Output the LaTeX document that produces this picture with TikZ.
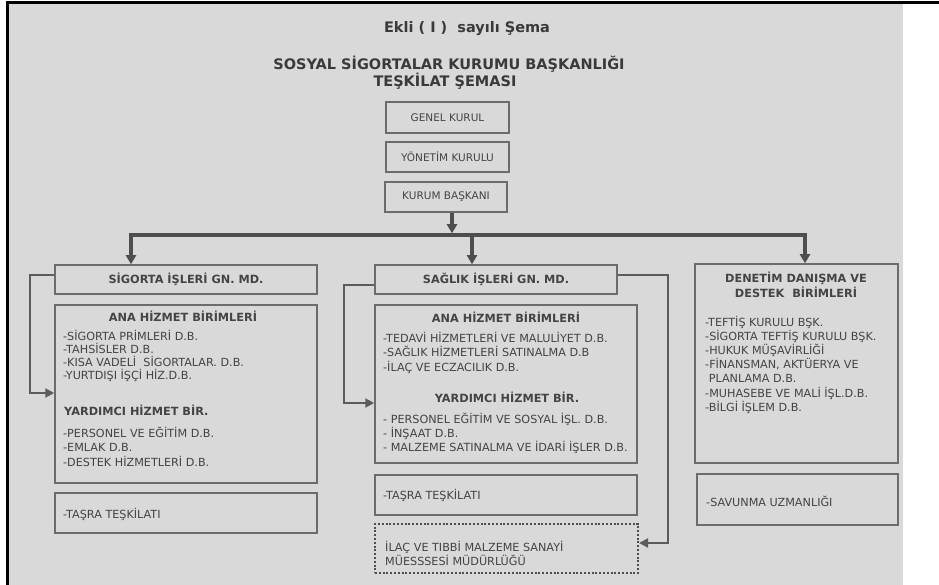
\documentclass[tikz,border=0pt]{standalone}
\usepackage{fontspec}
\setmainfont{DejaVu Sans}
\usetikzlibrary{calc}
\usetikzlibrary{arrows.meta}
\definecolor{paper}{RGB}{217,217,217}
\definecolor{ink}{RGB}{68,68,68}
\definecolor{frame}{RGB}{108,108,108}
\definecolor{wire}{RGB}{78,78,78}
\tikzset{
	chartbox/.style={draw=frame, line width=1.5pt, inner sep=0pt},
	txt/.style={text=ink, inner sep=0pt, font=\fontsize{11.2}{14}\selectfont},
	toptxt/.style={txt, font=\fontsize{10.5}{13}\selectfont},
	headtxt/.style={txt, font=\fontsize{11.3}{14}\selectfont\bfseries},
	titletxt/.style={text=ink!85!black, inner sep=0pt, font=\fontsize{14.5}{17}\selectfont\bfseries},
	busline/.style={draw=wire, line width=3.5pt, line join=miter, >={Triangle[length=9pt,width=10pt]}},
	sideline/.style={draw=frame!85!black, line width=2pt, ->, >={Triangle[length=9pt,width=9pt]}},
	dotbox/.style={chartbox, draw=wire, line width=2pt, dash pattern=on 2pt off 1.8pt},
}
\newcommand{\unitbox}[7][] % [style], name, left, top, right, bottom, text
{
	\node[chartbox, minimum width={#5-#3}, minimum height={#6-#4}, #1] (#2) at ({(#3+#5)/2},{(#4+#6)/2}) {#7};
}
\newcommand{\unitlist}[5] % name, x, first baseline, line step, items
{
	\foreach \entry [count=\idx] in {#5}
		\node[txt, anchor=base west] (#1-\idx) at (#2,{#3+#4*(\idx-1)}) {\entry};
}
\begin{document}
\begin{tikzpicture}[x=1pt, y=-1pt]
	% scanned page, 939 x 585
	\useasboundingbox (0,0) rectangle (939,585);
	\fill[white] (0,0) rectangle (939,585);
	\fill[paper] (9,4) rectangle (903,585);
	\fill[black] (6,1) rectangle (939,4);
	\fill[black] (6,1) rectangle (9,585);
	
	% titles
	\node[titletxt, anchor=base] (ekli) at (467,33) {Ekli ( I )\ \ sayılı Şema};
	\node[titletxt, anchor=base] (ssk) at (449,70) {SOSYAL SİGORTALAR KURUMU BAŞKANLIĞI};
	\node[titletxt, anchor=base] (sema) at (445,87) {TEŞKİLAT ŞEMASI};
	
	% top of the chart
	\unitbox[toptxt]{genel}{386}{102}{509}{133}{GENEL KURUL}
	\unitbox[toptxt]{yonetim}{386}{142}{509}{172}{YÖNETİM KURULU}
	\unitbox[toptxt]{baskan}{385}{182}{507}{212}{KURUM BAŞKANI}
	
	% sigorta
	\unitbox[headtxt]{sigh}{55}{265}{317}{294}{SİGORTA İŞLERİ GN. MD.}
	\unitbox{sigm}{55}{305}{317}{483}{}
	\unitbox{sigt}{55}{493}{317}{533}{}
	\node[headtxt, anchor=base] (sigana) at (183,321) {ANA HİZMET BİRİMLERİ};
	\unitlist{sigan}{63}{340}{13.2}{-SİGORTA PRİMLERİ D.B., -TAHSİSLER D.B., -KISA VADELİ\ \ SİGORTALAR. D.B., -YURTDIŞI İŞÇİ HİZ.D.B.}
	\node[headtxt, anchor=base west] (sigyard) at (64,415) {YARDIMCI HİZMET BİR.};
	\unitlist{sigyd}{63}{437}{14.5}{-PERSONEL VE EĞİTİM D.B., -EMLAK D.B., -DESTEK HİZMETLERİ D.B.}
	\unitlist{sigts}{63}{518}{14}{-TAŞRA TEŞKİLATI}
	
	% saglik
	\unitbox[headtxt]{saqh}{375}{265}{617}{294}{SAĞLIK İŞLERİ GN. MD.}
	\unitbox{saqm}{375}{305}{637}{463}{}
	\unitbox{saqt}{375}{475}{637}{515}{}
	\unitbox[dotbox]{ilac}{375}{524}{638}{573}{}
	\node[headtxt, anchor=base] (saqana) at (506,322) {ANA HİZMET BİRİMLERİ};
	\unitlist{saqan}{383}{342}{14.5}{-TEDAVİ HİZMETLERİ VE MALULİYET D.B., -SAĞLIK HİZMETLERİ SATINALMA D.B, -İLAÇ VE ECZACILIK D.B.}
	\node[headtxt, anchor=base] (saqyard) at (507,402) {YARDIMCI HİZMET BİR.};
	\unitlist{saqyd}{383}{423}{14}{- PERSONEL EĞİTİM VE SOSYAL İŞL. D.B., - İNŞAAT D.B., - MALZEME SATINALMA VE İDARİ İŞLER D.B.}
	\unitlist{saqts}{383}{499}{14}{-TAŞRA TEŞKİLATI}
	\unitlist{ilc}{385}{551}{14}{İLAÇ VE TIBBİ MALZEME SANAYİ, MÜESSSESİ MÜDÜRLÜĞÜ}
	
	% denetim
	\unitbox{den}{695}{264}{898}{463}{}
	\unitbox{sav}{697}{474}{898}{525}{}
	\node[headtxt, anchor=base] (denh1) at (796,282) {DENETİM DANIŞMA VE};
	\node[headtxt, anchor=base] (denh2) at (796,297) {DESTEK\ \ BİRİMLERİ};
	\unitlist{dn}{705}{326}{14.2}{-TEFTİŞ KURULU BŞK., -SİGORTA TEFTİŞ KURULU BŞK., -HUKUK MÜŞAVİRLİĞİ, {-FİNANSMAN, AKTÜERYA VE}, {\ PLANLAMA D.B.}, -MUHASEBE VE MALİ İŞL.D.B., -BİLGİ İŞLEM D.B.}
	\unitlist{svn}{706}{506}{14}{-SAVUNMA UZMANLIĞI}
	
	% main bus
	\coordinate (busL) at (131,235);
	\coordinate (busR) at (805,235);
	\coordinate (busK) at (452,235);
	\coordinate (busS) at (472,235);
	\draw[busline, <->] (busL |- sigh.north) -- (busL) -- (busR) -- (busR |- den.north);
	\draw[busline, ->, shorten >=1.75pt] (baskan.south -| busK) -- (busK);
	\draw[busline, ->] (busS) -- (busS |- saqh.north);
	
	% side links
	\draw[sideline] ([yshift=4.5pt]sigh.west) -- ++(-24,0) |- (sigm.west |- 0,393);
	\draw[sideline] ([yshift=-5.5pt]saqh.west) -- ++(-30,0) |- (saqm.west |- 0,403);
	\draw[sideline] ([yshift=4.5pt]saqh.east) -- ++(50,0) |- ([yshift=5.5pt]ilac.east);
	
\end{tikzpicture}
\end{document}
